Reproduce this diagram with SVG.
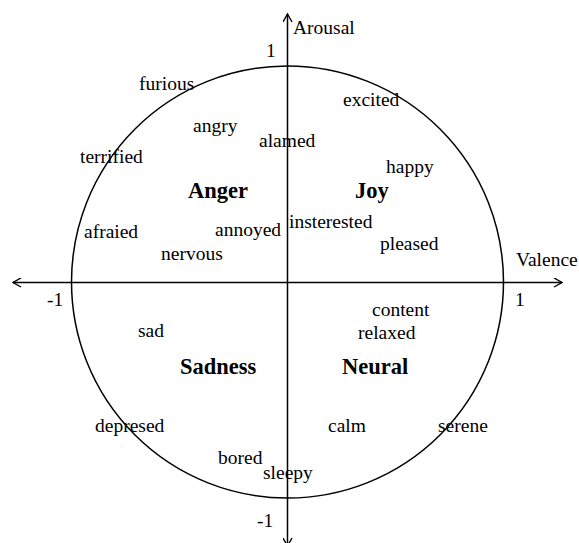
<svg xmlns="http://www.w3.org/2000/svg" width="579" height="543" viewBox="0 0 579 543">
<style>
text{font-family:"Liberation Serif","Times New Roman",serif;font-size:19.5px;fill:#000}
.b{font-weight:bold;font-size:22.5px}
.ax{stroke:#000;stroke-width:1.5;fill:none}
</style>
<defs>
<marker id="ah" viewBox="0 0 10 10" refX="9" refY="5" markerWidth="10" markerHeight="10" markerUnits="userSpaceOnUse" orient="auto-start-reverse">
<path d="M1,0.5 L9,5 L1,9.5" fill="none" stroke="#000" stroke-width="1.4"/>
</marker>
</defs>
<rect width="579" height="543" fill="#fff"/>
<g id="connectors">
<circle cx="287.5" cy="282" r="216" class="ax"/>
<line x1="13" y1="282.5" x2="562" y2="282.5" class="ax" marker-start="url(#ah)" marker-end="url(#ah)"/>
<line x1="287.5" y1="14" x2="287.5" y2="546" class="ax" marker-start="url(#ah)" marker-end="url(#ah)"/>
</g>
<g id="axis-labels">
<text x="293" y="34">Arousal</text>
<text x="266" y="57">1</text>
<text x="516" y="266">Valence</text>
<text x="47" y="306">-1</text>
<text x="515" y="306">1</text>
<text x="257" y="527">-1</text>
</g>
<g id="anger"><text class="b" x="188" y="198">Anger</text></g>
<g id="joy"><text class="b" x="355" y="198">Joy</text></g>
<g id="sadness"><text class="b" x="180" y="374">Sadness</text></g>
<g id="neural"><text class="b" x="342" y="374">Neural</text></g>
<g id="words">
<text x="139" y="90">furious</text>
<text x="343" y="106">excited</text>
<text x="193" y="132">angry</text>
<text x="259" y="147">alamed</text>
<text x="80" y="163">terrified</text>
<text x="386" y="173">happy</text>
<text x="84" y="238">afraied</text>
<text x="215" y="236">annoyed</text>
<text x="289" y="228">insterested</text>
<text x="380" y="250">pleased</text>
<text x="161" y="260">nervous</text>
<text x="372" y="316">content</text>
<text x="358" y="339">relaxed</text>
<text x="138" y="337">sad</text>
<text x="95" y="432">depresed</text>
<text x="328" y="432">calm</text>
<text x="438" y="432">serene</text>
<text x="218" y="464">bored</text>
<text x="263" y="479">sleepy</text>
</g>
</svg>
